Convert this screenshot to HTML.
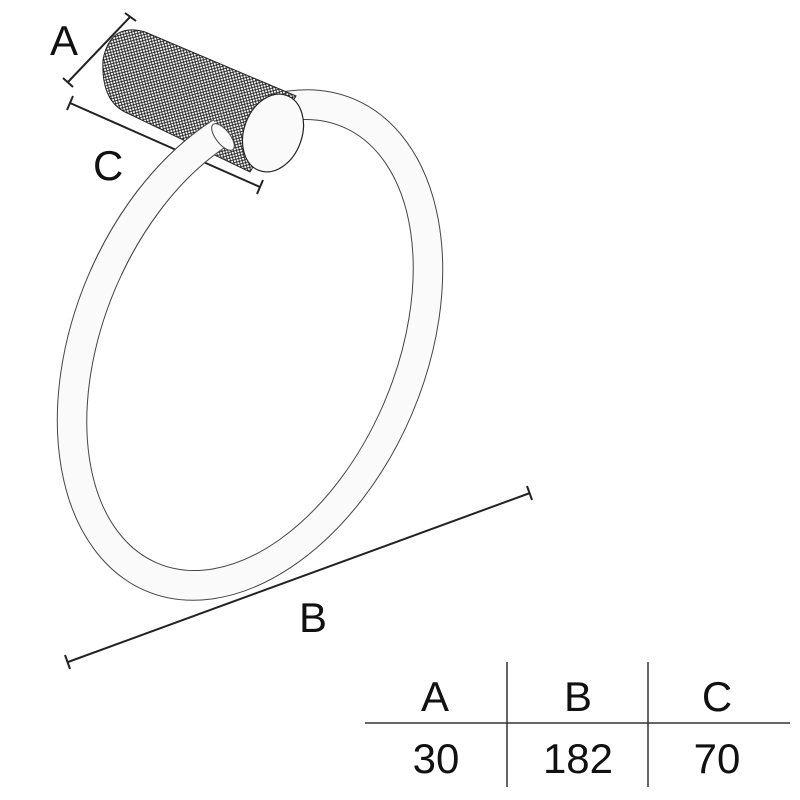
<!DOCTYPE html>
<html><head><meta charset="utf-8"><style>
html,body{margin:0;padding:0;background:#fff;width:800px;height:800px;overflow:hidden}
svg text{font-family:"Liberation Sans",sans-serif;fill:#111}
</style></head><body>
<svg width="800" height="800" viewBox="0 0 800 800" xmlns="http://www.w3.org/2000/svg">
<defs>
<pattern id="kn" width="4" height="4" patternUnits="userSpaceOnUse" patternTransform="rotate(30)">
<rect width="4" height="4" fill="#fff"/>
<path d="M0 0 L4 4 M4 0 L0 4" stroke="#111" stroke-width="0.8"/>
</pattern>
<clipPath id="rodclip"><polygon points="90,270 90,200 211,118 240,150 170,280"/></clipPath>
</defs>
<g transform="translate(250,345) rotate(23)">
<ellipse cx="0" cy="0" rx="176" ry="267" fill="#fafafa" stroke="#444" stroke-width="1"/>
<ellipse cx="0" cy="0" rx="146" ry="237" fill="#fff" stroke="#444" stroke-width="1"/>
</g>
<g stroke="#222" stroke-width="2">
<line x1="70" y1="103" x2="260" y2="187"/>
<line x1="67" y1="110" x2="73" y2="96"/>
<line x1="257" y1="194" x2="263" y2="180"/>
</g>
<path d="M296 96 L145 32 Q110 22 103 60 Q101 100 125 112 L250 172 Z" fill="url(#kn)" stroke="#222" stroke-width="1"/>
<g clip-path="url(#rodclip)">
<g transform="translate(250,345) rotate(23)">
<ellipse cx="0" cy="0" rx="161" ry="252" fill="none" stroke="#fafafa" stroke-width="29"/>
<ellipse cx="0" cy="0" rx="176" ry="267" fill="none" stroke="#444" stroke-width="1"/>
<ellipse cx="0" cy="0" rx="146" ry="237" fill="none" stroke="#444" stroke-width="1"/>
</g>
</g>
<ellipse cx="223" cy="137" rx="16" ry="7" transform="rotate(52 223 137)" fill="#fafafa" stroke="#444" stroke-width="1"/>
<ellipse cx="273" cy="133" rx="29" ry="40" transform="rotate(20 273 133)" fill="#fafafa" stroke="#222" stroke-width="1.2"/>
<g stroke="#222" stroke-width="2">
<line x1="68" y1="82" x2="130" y2="17"/>
<line x1="63" y1="78" x2="73" y2="87"/>
<line x1="125" y1="13" x2="136" y2="21"/>
<line x1="68" y1="662" x2="530" y2="493"/>
<line x1="65" y1="655" x2="70" y2="669"/>
<line x1="527" y1="486" x2="532" y2="500"/>
</g>
<text x="50" y="55" font-size="42">A</text>
<text x="93" y="180" font-size="42">C</text>
<text x="299" y="632" font-size="42">B</text>
<g stroke="#333" stroke-width="1.5">
<line x1="365" y1="723" x2="790" y2="723"/>
<line x1="507" y1="662" x2="507" y2="787"/>
<line x1="648" y1="662" x2="648" y2="787"/>
</g>
<g font-size="42" text-anchor="middle">
<text x="435" y="711">A</text>
<text x="578" y="711">B</text>
<text x="717" y="711">C</text>
<text x="436" y="773">30</text>
<text x="578" y="773">182</text>
<text x="717" y="773">70</text>
</g>
</svg>
</body></html>
